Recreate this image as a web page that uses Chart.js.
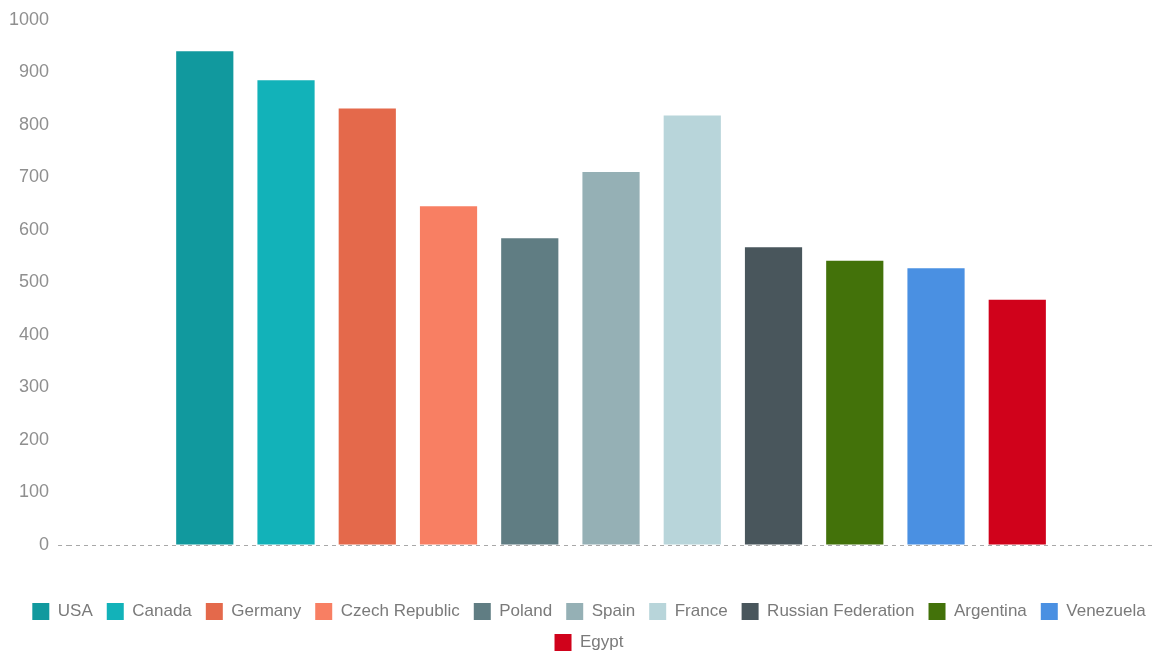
<!DOCTYPE html>
<html>
<head>
<meta charset="utf-8">
<title>Values by country</title>
<script src="https://cdn.jsdelivr.net/npm/chart.js@4/dist/chart.umd.min.js"></script>
<style>
  html, body { margin: 0; padding: 0; background: #ffffff; overflow: hidden; }
  #wrap { position: relative; width: 1154px; height: 658px; }
</style>
</head>
<body>
<div id="wrap"><canvas id="chart"></canvas></div>
<script>
// Countries, their values and bar colours
const countries = ['USA', 'Canada', 'Germany', 'Czech Republic', 'Poland', 'Spain', 'France',
  'Russian Federation', 'Argentina', 'Venezuela', 'Egypt'];
const values = [940, 885, 831, 645, 584, 710, 818, 567, 541, 527, 467];
const colors = ['#11999e', '#12b2b9', '#e4694b', '#f87f63', '#607d83', '#95b0b5', '#b8d5da',
  '#49565c', '#43720a', '#4a90e2', '#d0021b'];
const yTicks = [0, 100, 200, 300, 400, 500, 600, 700, 800, 900, 1000];

const FONT = "'Liberation Sans', Arial, sans-serif";
const ZERO_LINE = '#a8a8a8';

// One dataset per country so every bar gets its own legend entry
const datasets = countries.map((name, i) => ({
  label: name,
  data: [values[i]],
  backgroundColor: colors[i],
  borderWidth: 0,
  barPercentage: 0.704,
  categoryPercentage: 0.823
}));

// Nudges the legend block a little to the right and down
const legendOffset = {
  id: 'legendOffset',
  afterLayout(chart) {
    const lg = chart.legend;
    if (!lg) return;
    lg.left += 12; lg.right += 12;
    lg.top += 3; lg.bottom += 3;
  }
};

new Chart(document.getElementById('chart'), {
  type: 'bar',
  data: { labels: [''], datasets },
  plugins: [legendOffset],
  options: {
    responsive: true,
    maintainAspectRatio: false,
    animation: false,
    layout: { padding: { left: 0, top: 10, right: 0, bottom: 0 } },
    plugins: {
      tooltip: { enabled: false },
      legend: {
        position: 'bottom',
        labels: {
          boxWidth: 17,
          boxHeight: 17,
          padding: 14,
          color: '#7a7a7a',
          font: { family: FONT, size: 17 }
        }
      }
    },
    scales: {
      x: {
        grid: { display: false },
        border: { display: false },
        ticks: { display: false },
        afterFit: (axis) => { axis.height = 41; }
      },
      y: {
        min: 0,
        max: 1000,
        afterBuildTicks: (axis) => { axis.ticks = yTicks.map(v => ({ value: v })); },
        border: { display: false, dash: [4, 4] },
        grid: {
          color: (c) => (c.tick && c.tick.value === 0 ? ZERO_LINE : 'rgba(0,0,0,0)'),
          tickColor: (c) => (c.tick && c.tick.value === 0 ? ZERO_LINE : 'rgba(0,0,0,0)'),
          tickBorderDash: [4, 4],
          lineWidth: 1,
          tickLength: 10
        },
        ticks: {
          padding: 9,
          color: '#8f8f8f',
          font: { family: FONT, size: 18 },
          callback: (v) => String(v)
        }
      }
    }
  }
});
</script>
</body>
</html>
